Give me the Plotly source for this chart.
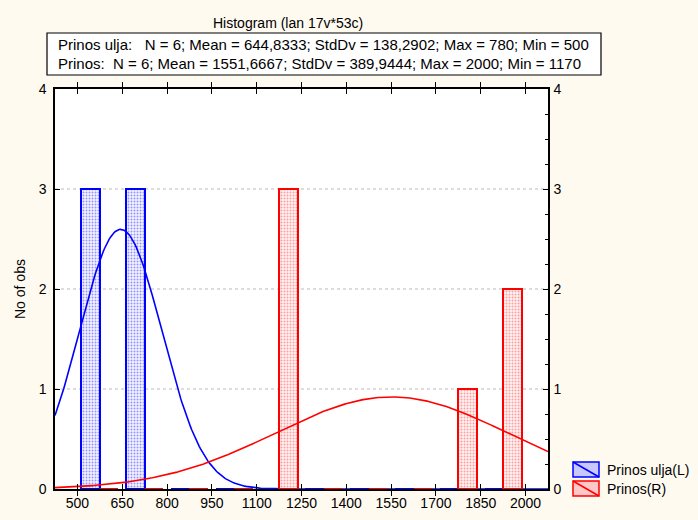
import math
import plotly.graph_objects as go

# ---- data ----
bin_centers = [575, 725, 875, 1025, 1175, 1325, 1475, 1625, 1775, 1925]
counts_ulja = [3, 3, 0, 0, 0, 0, 0, 0, 0, 0]
counts_prinos = [0, 0, 0, 0, 3, 0, 0, 0, 1, 2]
bin_width = 150
x_ticks = [500, 650, 800, 950, 1100, 1250, 1400, 1550, 1700, 1850, 2000]
y_ticks = [0, 1, 2, 3, 4]

stats_ulja = dict(n=6, mean=644.8333, sd=138.2902, max=780, min=500)
stats_prinos = dict(n=6, mean=1551.6667, sd=389.9444, max=2000, min=1170)

title_text = "Histogram (lan 17v*53c)"
line1 = "Prinos ulja:   N = 6; Mean = 644,8333; StdDv = 138,2902; Max = 780; Min = 500"
line2 = "Prinos:  N = 6; Mean = 1551,6667; StdDv = 389,9444; Max = 2000; Min = 1170"

BLUE = "#0000FF"
RED = "#FF0000"
FONT = "Liberation Sans, Arial, sans-serif"

# fitted normal curves (expected counts per bin)
x_min, x_max = 425, 2075
xs = [x_min + i * (x_max - x_min) / 400 for i in range(401)]


def normal_curve(st):
    k = st["n"] * bin_width / (st["sd"] * math.sqrt(2 * math.pi))
    return [k * math.exp(-0.5 * ((x - st["mean"]) / st["sd"]) ** 2) for x in xs]


bar_w = 62

fig = go.Figure()
fig.add_trace(go.Bar(
    x=bin_centers, y=counts_ulja, width=bar_w, offset=-bar_w,
    marker=dict(color="white", line=dict(color=BLUE, width=2),
                pattern=dict(shape=".", fgcolor="#3333FF", bgcolor="#F4F4FF", size=3, solidity=0.35)),
    showlegend=False, yaxis="y"))
fig.add_trace(go.Bar(
    x=bin_centers, y=counts_prinos, width=bar_w, offset=0,
    marker=dict(color="white", line=dict(color=RED, width=2),
                pattern=dict(shape=".", fgcolor="#FF4444", bgcolor="#FFF4F4", size=3, solidity=0.35)),
    showlegend=False, yaxis="y2"))
fig.add_trace(go.Scatter(x=xs, y=normal_curve(stats_ulja), mode="lines",
                         line=dict(color=BLUE, width=1.6), showlegend=False, yaxis="y"))
fig.add_trace(go.Scatter(x=xs, y=normal_curve(stats_prinos), mode="lines",
                         line=dict(color=RED, width=1.6), showlegend=False, yaxis="y2"))

L, R, T, B = 55, 150, 89, 31
PW = 698 - L - R
PH = 520 - T - B


def px(xp):
    return (xp - L) / PW


def py(yp):
    return (520 - B - yp) / PH


shapes = []
annotations = []
# gridlines
for g in [1, 2, 3]:
    shapes.append(dict(type="line", xref="paper", yref="y", x0=0, x1=1, y0=g, y1=g,
                       line=dict(color="#BBBBBB", width=1, dash="dot"), layer="below"))
# stats box
shapes.append(dict(type="rect", xref="paper", yref="paper", x0=px(47), x1=px(601), y0=py(75), y1=py(33),
                   fillcolor="white", line=dict(color="black", width=1.2)))
annotations.append(dict(text=line1, xref="paper", yref="paper", x=px(56), y=py(45), xanchor="left",
                        yanchor="middle", showarrow=False, font=dict(family=FONT, size=15, color="black")))
annotations.append(dict(text=line2, xref="paper", yref="paper", x=px(56), y=py(63), xanchor="left",
                        yanchor="middle", showarrow=False, font=dict(family=FONT, size=15, color="black")))
annotations.append(dict(text=title_text, xref="paper", yref="paper", x=px(288), y=py(23), xanchor="center",
                        yanchor="middle", showarrow=False, font=dict(family=FONT, size=14, color="black")))
annotations.append(dict(text="No of obs", xref="paper", yref="paper", x=px(20), y=py(289), xanchor="center",
                        yanchor="middle", textangle=-90, showarrow=False,
                        font=dict(family=FONT, size=14, color="black")))
# legend
legend_items = [("Prinos ulja(L)", BLUE, "#C8C8FF", 462, 477), ("Prinos(R)", RED, "#FFC8C8", 481, 496)]
for name, col, fill, y0, y1 in legend_items:
    shapes.append(dict(type="rect", xref="paper", yref="paper", x0=px(573), x1=px(599), y0=py(y1), y1=py(y0),
                       fillcolor=fill, line=dict(color=col, width=1.5)))
    shapes.append(dict(type="line", xref="paper", yref="paper", x0=px(573), x1=px(599), y0=py(y0), y1=py(y1),
                       line=dict(color=col, width=1.5)))
    annotations.append(dict(text=name, xref="paper", yref="paper", x=px(605), y=py((y0 + y1) / 2),
                            xanchor="left", yanchor="middle", showarrow=False,
                            font=dict(family=FONT, size=14, color="black")))

axis_common = dict(showline=True, linecolor="black", linewidth=1.5, ticks="inside", ticklen=5,
                   tickcolor="black", showgrid=False, zeroline=False, automargin=False,
                   tickfont=dict(family=FONT, size=14, color="black"))

fig.update_layout(
    width=698, height=520,
    margin=dict(l=L, r=R, t=T, b=B, pad=0),
    paper_bgcolor="#FFFAF0", plot_bgcolor="white",
    barmode="overlay", bargap=0,
    xaxis=dict(range=[x_min, x_max], tickvals=x_ticks, mirror="allticks", **axis_common),
    yaxis=dict(range=[0, 4], tickvals=y_ticks, mirror=True, ticklabelstandoff=4, **axis_common),
    yaxis2=dict(range=[0, 4], tickvals=y_ticks, overlaying="y", side="right", ticklabelstandoff=1,
                minor=dict(ticks="inside", dtick=0.25, ticklen=3, tickcolor="black"), **axis_common),
    shapes=shapes, annotations=annotations,
    showlegend=False,
)

fig.write_html("out.html", config={"displayModeBar": False},
               post_script="document.body.style.margin='0';")
